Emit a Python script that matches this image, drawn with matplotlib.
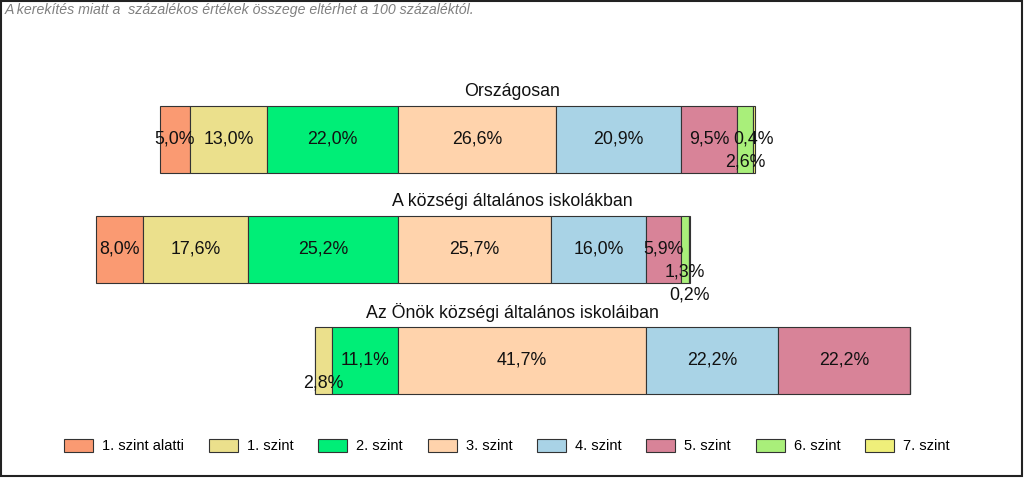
import matplotlib
matplotlib.use("Agg")
import matplotlib.pyplot as plt
from matplotlib.patches import Rectangle, Patch
import numpy as np

plt.rcParams['font.family'] = ['Liberation Sans', 'DejaVu Sans']

groups = ["Országosan", "A községi általános iskolákban", "Az Önök községi általános iskoláiban"]
levels = ["1. szint alatti", "1. szint", "2. szint", "3. szint", "4. szint", "5. szint", "6. szint", "7. szint"]
orszagosan = [5.0, 13.0, 22.0, 26.6, 20.9, 9.5, 2.6, 0.4]
kozsegi = [8.0, 17.6, 25.2, 25.7, 16.0, 5.9, 1.3, 0.2]
onok = [0.0, 2.8, 11.1, 41.7, 22.2, 22.2, 0.0, 0.0]
note = "A kerekítés miatt a  százalékos értékek összege eltérhet a 100 százaléktól."

colors = ["#FA9A72", "#EBE08C", "#00EE77", "#FFD3AC", "#A9D3E6", "#D88398", "#A9EF7A", "#EFEF7A"]

data = [orszagosan, kozsegi, onok]

# vertical label offsets (in bar-height units) for small segments
label_dy = {(0, 6): 0.21, (1, 6): 0.2, (1, 7): 0.41, (2, 1): 0.21}

W, H = 1024, 478
fig = plt.figure(figsize=(W / 100, H / 100), dpi=100)
ax = fig.add_axes([0, 0, 1, 1])
ax.set_axis_off()

px_per_pct = 5.95
split_px = 398
ax.set_xlim(-split_px / px_per_pct, (W - split_px) / px_per_pct)
row_px = 110.5
first_center = 139
ax.set_ylim((H - first_center) / row_px, -first_center / row_px)

bar_h = 67 / row_px
for i, vals in enumerate(data):
    vals = np.array(vals)
    left = -(vals[0] + vals[1] + vals[2])
    lefts = left + np.concatenate([[0], np.cumsum(vals)[:-1]])
    ax.barh([i] * len(vals), vals, left=lefts, height=bar_h, color=colors,
            edgecolor="#333333", linewidth=0.8)
    for j, v in enumerate(vals):
        if v <= 0:
            continue
        dy = label_dy.get((i, j), 0.0)
        ax.text(lefts[j] + v / 2, i + dy, f"{v:.1f}%".replace(".", ","),
                ha="center", va="center", fontsize=12.8, color="#111111")
    ax.text(512 / px_per_pct - split_px / px_per_pct, i - bar_h / 2 - 0.13, groups[i],
            ha="center", va="center", fontsize=12.8, color="#111111")

fig.text(5 / W, 1 - 10 / H, note, ha="left", va="center", fontsize=10.2,
         style="italic", color="#808080")

handles = [Patch(facecolor=c, edgecolor="#333333", linewidth=0.8) for c in colors]
fig.legend(handles, levels, loc="center", bbox_to_anchor=(0.495, 1 - 446 / H),
           ncol=8, frameon=False, handlelength=2.0, handleheight=1.0,
           columnspacing=1.7, handletextpad=0.6,
           prop={'family': ['Liberation Sans Narrow', 'Liberation Sans'], 'size': 10.5})

fig.patches.append(Rectangle((0.5 / W, 2 / H), 1 - 3 / W, 1 - 2.5 / H,
                             transform=fig.transFigure, fill=False,
                             edgecolor="#222222", linewidth=1.5))

fig.savefig("out.png", dpi=100)
